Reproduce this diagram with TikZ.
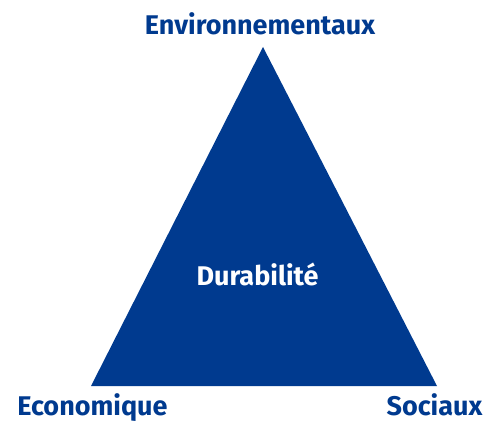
\documentclass[tikz,border=0pt]{standalone}
\usepackage{fontspec}
\setmainfont{Fira Sans}
\definecolor{tblue}{HTML}{003A8F}
\begin{document}
\begin{tikzpicture}[x=1pt,y=1pt,
  lbl/.style={font=\bfseries\fontsize{27}{32}\selectfont, text=tblue, anchor=base, inner sep=0pt},
  inlbl/.style={font=\bfseries\fontsize{27}{32}\selectfont, text=white, anchor=base, inner sep=0pt}]
\useasboundingbox (0,0) rectangle (500,440);
\coordinate (top) at (263,393);
\coordinate (bl) at (91,54);
\coordinate (br) at (437,54);
\fill[tblue] (top) -- (bl) -- (br) -- cycle;
\node[lbl] (env) at (260,405) {Environnementaux};
\node[lbl] (eco) at (92.5,25) {Economique};
\node[lbl] (soc) at (434.5,25) {Sociaux};
\node[inlbl] (dur) at (257.5,155) {Durabilité};
\end{tikzpicture}
\end{document}
